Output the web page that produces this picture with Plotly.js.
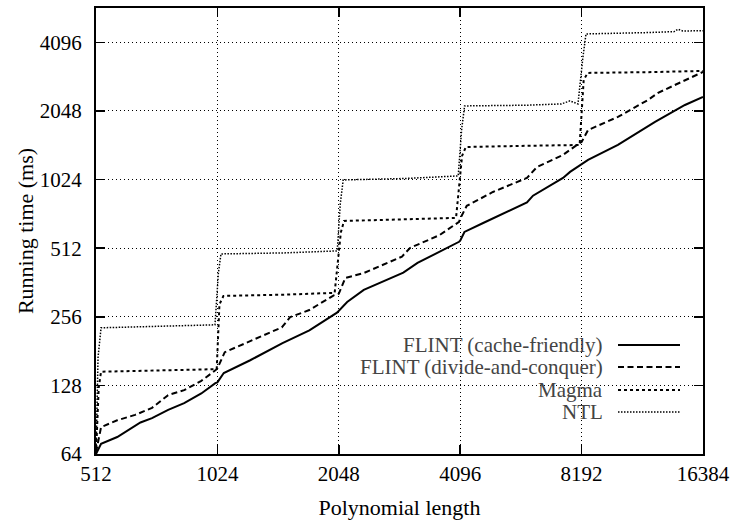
<!DOCTYPE html>
<html>
<head>
<meta charset="utf-8">
<script src="https://cdn.plot.ly/plotly-3.0.1.min.js"></script>
</head>
<body style="margin:0">
<div id="chart" style="width:732px;height:520px"></div>
<script>
// ---- Data ----
const seriesNames = ["FLINT (cache-friendly)", "FLINT (divide-and-conquer)", "Magma", "NTL"];

const flintCacheX = [512, 527, 578, 617, 660, 705, 773, 847, 934, 1012, 1024, 1062, 1235, 1485, 1731, 2027, 2048, 2148, 2362, 2960, 3210, 3726, 4070, 4096, 4196, 4670, 5997, 6207, 7367, 7670, 8118, 8192, 8500, 10080, 12460, 14780, 16384];
const flintCacheY = [64, 71, 76, 82, 88, 92, 100, 107, 118, 131, 132, 145, 165, 196, 223, 267, 272, 297, 336, 400, 441, 503, 546, 552, 603, 660, 812, 870, 1041, 1106, 1187, 1200, 1248, 1454, 1832, 2175, 2360];

const flintDcX = [512, 527, 578, 640, 705, 773, 847, 934, 1012, 1024, 1068, 1255, 1479, 1551, 1731, 1990, 2048, 2126, 2362, 2937, 3074, 3640, 4070, 4096, 4252, 4937, 5997, 6350, 7367, 8118, 8192, 8500, 10080, 11970, 12680, 16384];
const flintDcY = [65, 84, 90, 95, 102, 116, 122, 134, 149, 152, 179, 202, 230, 255, 274, 318, 323, 379, 398, 470, 513, 584, 668, 690, 785, 903, 1041, 1162, 1313, 1485, 1495, 1689, 1928, 2288, 2459, 3037];

const magmaX = [512, 520, 527, 700, 900, 1020, 1036, 1060, 1500, 2000, 2072, 2110, 3000, 4000, 4140, 4230, 6000, 8100, 8290, 8480, 12000, 16384];
const magmaY = [64, 125, 147, 148, 150, 151, 290, 316, 320, 326, 600, 674, 685, 695, 1300, 1423, 1440, 1452, 2800, 3007, 3030, 3068];

const ntlX = [512, 518, 527, 750, 1010, 1030, 1045, 1500, 2030, 2065, 2100, 3000, 4050, 4130, 4200, 6000, 7300, 7665, 8024, 8250, 8400, 12000, 13900, 14203, 14600, 16384];
const ntlY = [64, 170, 229, 232, 236, 400, 483, 488, 498, 800, 1020, 1035, 1062, 1700, 2154, 2170, 2198, 2266, 2198, 3500, 4458, 4520, 4563, 4677, 4596, 4600];

const xTicks = [512, 1024, 2048, 4096, 8192, 16384];
const yTicks = [64, 128, 256, 512, 1024, 2048, 4096];
const xTickText = xTicks.map(String);
const yTickText = yTicks.map(String);

const xTitle = "Polynomial length";
const yTitle = "Running time (ms)";

(function () {
  const FAM = "Liberation Serif";
  const styles = [
    {color: "black", width: 2, dash: "solid"},
    {color: "black", width: 2, dash: "6px,3.5px"},
    {color: "black", width: 2, dash: "3px,3px"},
    {color: "black", width: 1.5, dash: "1.5px,1.5px"}
  ];

  const xs = [flintCacheX, flintDcX, magmaX, ntlX];
  const ys = [flintCacheY, flintDcY, magmaY, ntlY];

  const traces = seriesNames.map((n, i) => ({
    type: "scatter",
    mode: "lines",
    name: n,
    x: xs[i],
    y: ys[i],
    line: {color: styles[i].color, width: styles[i].width, dash: styles[i].dash},
    hoverinfo: "skip"
  }));

  const left = 96, right = 703, top = 8, bottom = 454;
  const pw = right - left, ph = bottom - top;
  const toPx = v => (v - left) / pw;
  const toPy = v => (bottom - v) / ph;

  const legendRows = [345, 367, 390, 412];
  const annotations = seriesNames.map((n, i) => ({
    xref: "paper", yref: "paper",
    x: toPx(605), y: toPy(legendRows[i]),
    xanchor: "right", yanchor: "middle",
    text: n, showarrow: false,
    font: {family: FAM, size: 21}
  }));

  const shapes = [{
    type: "rect", xref: "paper", yref: "paper",
    x0: toPx(343), x1: toPx(700), y0: toPy(425), y1: toPy(332),
    fillcolor: "white", line: {width: 0}, layer: "between"
  }].concat(seriesNames.map((n, i) => ({
    type: "line", xref: "paper", yref: "paper",
    x0: toPx(618), x1: toPx(680), y0: toPy(legendRows[i]), y1: toPy(legendRows[i]),
    line: {color: styles[i].color, width: styles[i].width, dash: styles[i].dash},
    layer: "above"
  })));

  function axis(extra) {
    return Object.assign({
      type: "log",
      ticks: "inside",
      ticklen: 9,
      tickwidth: 1.5,
      tickcolor: "black",
      showline: true,
      linewidth: 2,
      linecolor: "black",
      mirror: "ticks",
      showgrid: true,
      gridcolor: "black",
      gridwidth: 1,
      griddash: "1px,3px",
      zeroline: false,
      tickfont: {family: FAM, size: 21, color: "black"},
      fixedrange: true
    }, extra);
  }

  const layout = {
    width: 732, height: 520,
    margin: {l: left, r: 732 - right, t: top, b: 520 - bottom},
    paper_bgcolor: "white",
    plot_bgcolor: "white",
    showlegend: false,
    xaxis: axis({
      range: [Math.log10(512), Math.log10(16384)],
      tickvals: xTicks, ticktext: xTickText,
      ticklabelstandoff: 0,
      title: {text: xTitle, font: {family: FAM, size: 22, color: "black"}}
    }),
    yaxis: axis({
      range: [Math.log10(64), Math.log10(64 * Math.pow(2, 6.5))],
      tickvals: yTicks, ticktext: yTickText,
      ticklabelstandoff: 8,
      title: {text: yTitle, font: {family: FAM, size: 22, color: "black"}}
    }),
    annotations: annotations,
    shapes: shapes
  };

  Plotly.newPlot("chart", traces, layout, {displayModeBar: false, staticPlot: true});
})();
</script>
</body>
</html>
